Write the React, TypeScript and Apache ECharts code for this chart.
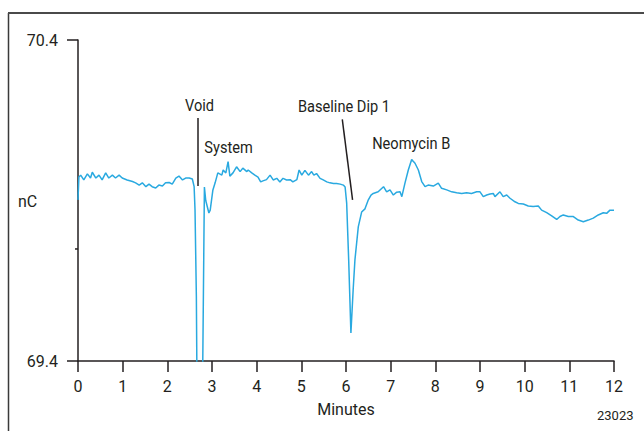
import { useEffect, useRef } from "react";
import * as echarts from "echarts";

// Retention time (minutes) and detector response (nC)
const minutes = [
  0.0, 0.02, 0.06, 0.13, 0.21, 0.28, 0.32, 0.4, 0.47, 0.54, 0.62, 0.69, 0.77, 0.84, 0.92, 0.99,
  1.1, 1.22, 1.29, 1.37, 1.44, 1.52, 1.59, 1.66, 1.74, 1.81, 1.89, 1.96, 2.04, 2.11, 2.19, 2.26,
  2.34, 2.41, 2.49, 2.56, 2.6, 2.62, 2.65, 2.67, 2.78, 2.79, 2.83, 2.86, 2.93, 2.96, 3.02, 3.07,
  3.13, 3.22, 3.25, 3.31, 3.36, 3.4, 3.47, 3.55, 3.63, 3.69, 3.78, 3.81, 3.89, 3.96, 4.03, 4.09,
  4.14, 4.22, 4.3, 4.37, 4.45, 4.52, 4.59, 4.67, 4.75, 4.81, 4.9, 4.95, 5.01, 5.08, 5.16, 5.23,
  5.28, 5.34, 5.42, 5.49, 5.57, 5.64, 5.72, 5.79, 5.87, 5.94, 5.98, 6.015, 6.06, 6.11, 6.16, 6.2,
  6.275, 6.35, 6.425, 6.5, 6.56, 6.61, 6.72, 6.84, 6.91, 6.985, 7.06, 7.135, 7.21, 7.25, 7.32,
  7.395, 7.47, 7.5, 7.545, 7.62, 7.695, 7.77, 7.84, 7.955, 8.066, 8.14, 8.255, 8.366, 8.478,
  8.59, 8.7, 8.81, 8.926, 9.0, 9.074, 9.15, 9.224, 9.297, 9.335, 9.447, 9.52, 9.598, 9.672,
  9.783, 9.857, 9.97, 10.08, 10.19, 10.305, 10.38, 10.493, 10.605, 10.717, 10.79, 10.865,
  10.977, 11.09, 11.2, 11.313, 11.425, 11.536, 11.648, 11.76, 11.835, 11.91, 12.0,
];

const signal = [
  69.902, 69.973, 69.979, 69.964, 69.983, 69.97, 69.988, 69.97, 69.979, 69.964, 69.986, 69.97,
  69.979, 69.97, 69.979, 69.97, 69.964, 69.959, 69.955, 69.948, 69.955, 69.943, 69.951, 69.943,
  69.939, 69.948, 69.945, 69.955, 69.956, 69.951, 69.97, 69.976, 69.964, 69.97, 69.97, 69.967,
  69.943, 69.87, 69.6, 69.2, 69.2, 69.2, 69.942, 69.9, 69.861, 69.87, 69.933, 69.955, 69.986,
  69.979, 69.995, 69.986, 70.021, 69.976, 69.986, 70.005, 69.99, 70.001, 69.99, 69.995, 69.986,
  69.979, 69.973, 69.958, 69.961, 69.965, 69.979, 69.964, 69.969, 69.958, 69.969, 69.964,
  69.965, 69.958, 69.965, 69.995, 69.979, 69.994, 69.979, 69.99, 69.979, 69.984, 69.969,
  69.964, 69.958, 69.955, 69.953, 69.953, 69.951, 69.948, 69.942, 69.892, 69.715, 69.487,
  69.621, 69.715, 69.818, 69.864, 69.874, 69.902, 69.917, 69.922, 69.927, 69.943, 69.927,
  69.933, 69.917, 69.926, 69.927, 69.912, 69.954, 69.995, 70.028, 70.023, 70.016, 69.995,
  69.959, 69.943, 69.948, 69.945, 69.954, 69.938, 69.933, 69.927, 69.924, 69.922, 69.924,
  69.922, 69.927, 69.927, 69.912, 69.917, 69.92, 69.922, 69.912, 69.927, 69.912, 69.917,
  69.907, 69.896, 69.891, 69.889, 69.883, 69.881, 69.883, 69.87, 69.862, 69.852, 69.841,
  69.85, 69.855, 69.85, 69.85, 69.839, 69.834, 69.839, 69.845, 69.855, 69.862, 69.86, 69.87,
  69.87,
];

const yMin = 69.4;
const yMax = 70.4;
const xMax = 12;
const minorTickValue = 69.749;

// Peak annotations: label text, label anchor, leader line (start/end)
const peakNames = ["Void", "System", "Baseline Dip 1", "Neomycin B"];
const peakLabelPos: [number, number][] = [
  [2.72, 70.198],
  [3.37, 70.067],
  [5.955, 70.194],
  [7.46, 70.079],
];
const leaderLines: [[number, number], [number, number]][] = [
  [[2.686, 70.157], [2.686, 69.945]],
  [[5.917, 70.153], [6.147, 69.902]],
];

const FONT = "Roboto, 'Liberation Sans', sans-serif";
const INK = "#231f20";
const TRACE = "#29a9e0";

export default function App() {
  const ref = useRef<HTMLDivElement>(null);

  useEffect(() => {
    if (!ref.current) return;
    const chart = echarts.init(ref.current, undefined, { renderer: "svg" });

    const data = minutes.map((m, i) => [m, signal[i]]);

    chart.setOption({
      animation: false,
      backgroundColor: "#ffffff",
      textStyle: { fontFamily: FONT },
      grid: { left: 78, right: 30, top: 40, bottom: 70, containLabel: false },
      xAxis: {
        type: "value",
        min: 0,
        max: xMax,
        interval: 1,
        name: "Minutes",
        nameLocation: "middle",
        nameGap: 40,
        nameTextStyle: { color: INK, fontSize: 16, fontFamily: FONT },
        axisLine: { show: true, onZero: false, lineStyle: { color: INK, width: 1.5 } },
        axisTick: { show: true, inside: false, length: 11, lineStyle: { color: INK, width: 1.5 } },
        axisLabel: { color: INK, fontSize: 16, margin: 17, fontFamily: FONT },
        splitLine: { show: false },
      },
      yAxis: {
        type: "value",
        min: yMin,
        max: yMax,
        interval: 1,
        axisLine: { show: true, onZero: false, lineStyle: { color: INK, width: 1.5 } },
        axisTick: { show: true, inside: false, length: 11, lineStyle: { color: INK, width: 1.5 } },
        axisLabel: {
          color: INK,
          fontSize: 16,
          margin: 20,
          fontFamily: FONT,
          formatter: (v: number) => v.toFixed(1),
        },
        splitLine: { show: false },
      },
      series: [
        {
          type: "line",
          data,
          showSymbol: false,
          symbol: "none",
          clip: true,
          lineStyle: { color: TRACE, width: 1.5 },
          silent: true,
          markLine: {
            silent: true,
            symbol: ["none", "none"],
            label: { show: false },
            lineStyle: { color: INK, width: 1.5, type: "solid" },
            data: leaderLines.map(([a, b]) => [{ coord: a }, { coord: b }]),
          },
        },
      ],
    });

    const toPx = (p: [number, number]) =>
      chart.convertToPixel({ gridIndex: 0 }, p) as number[];

    const [ax, ay] = toPx([0, minorTickValue]);

    // condensed peak labels anchored at data coordinates
    const peakTexts = peakNames.map((name, i) => {
      const [px, py] = toPx(peakLabelPos[i]);
      return {
        type: "text",
        x: px,
        y: py,
        scaleX: 0.86,
        silent: true,
        style: {
          text: name,
          fill: INK,
          font: `17px ${FONT}`,
          textAlign: "center",
          textVerticalAlign: "middle",
        },
      };
    });

    chart.setOption({
      graphic: [
        // outer frame: left and top rules
        {
          type: "line",
          shape: { x1: 8.5, y1: 13, x2: 8.5, y2: 431 },
          style: { stroke: "#3a3a3a", lineWidth: 1.5 },
          silent: true,
        },
        {
          type: "line",
          shape: { x1: 8, y1: 13, x2: 644, y2: 13 },
          style: { stroke: "#4a4a4a", lineWidth: 2 },
          silent: true,
        },
        // minor tick on the value axis
        {
          type: "line",
          shape: { x1: ax - 3, y1: ay, x2: ax, y2: ay },
          style: { stroke: INK, lineWidth: 1.5 },
          silent: true,
        },
        ...peakTexts,
        {
          type: "text",
          left: 18,
          top: 193,
          style: { text: "nC", fill: INK, font: `16px ${FONT}` },
          silent: true,
        },
        {
          type: "text",
          left: 597,
          top: 409,
          style: { text: "23023", fill: INK, font: `13px ${FONT}` },
          silent: true,
        },
      ],
    });

    return () => chart.dispose();
  }, []);

  return (
    <div
      ref={ref}
      style={{ position: "absolute", left: 0, top: 0, width: 644, height: 431, background: "#fff" }}
    />
  );
}
